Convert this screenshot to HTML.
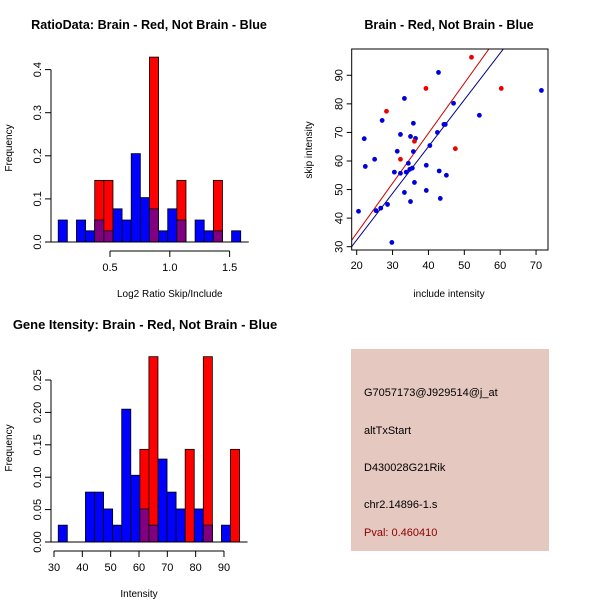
<!DOCTYPE html>
<html><head><meta charset="utf-8"><style>
body{margin:0;background:#fff}
svg{display:block;font-family:"Liberation Sans",sans-serif}
</style></head><body>
<svg id="c" width="600" height="600" viewBox="0 0 600 600">
<rect width="600" height="600" fill="#fff"/>
<text x="149" y="29" font-size="12.6" font-weight="bold" text-anchor="middle">RatioData: Brain - Red, Not Brain - Blue</text>
<text x="145" y="329" font-size="13" font-weight="bold" text-anchor="middle">Gene Itensity: Brain - Red, Not Brain - Blue</text>
<text x="449" y="29" font-size="12.6" font-weight="bold" text-anchor="middle">Brain - Red, Not Brain - Blue</text>
<g id="p1"></g>
<g id="p2"></g>
<g id="p3"></g>
<g>
<rect x="351" y="349" width="198" height="202" fill="#e5c8c0"/>
<text x="364" y="396" font-size="11">G7057173@J929514@j_at</text>
<text x="364" y="434" font-size="11">altTxStart</text>
<text x="364" y="471" font-size="11">D430028G21Rik</text>
<text x="364" y="508" font-size="11">chr2.14896-1.s</text>
<text x="364" y="536" font-size="11" fill="#8b0000">Pval: 0.460410</text>
</g>
</svg>
<script>
// Ratio histogram data
const ratioBinStart = 0.067, ratioBinWidth = 0.0763;
const ratioBlue = [0.051,0,0.051,0.026,0.051,0.026,0.077,0.051,0.205,0.103,0.077,0.026,0.077,0.051,0,0.051,0.026,0.026,0,0.026];
const ratioRed  = [0,0,0,0,0.143,0.143,0,0,0,0,0.429,0,0,0.143,0,0,0,0.143,0,0];
const ratioXTicks = [0.5,1.0,1.5];
const ratioXTickLabels = ["0.5","1.0","1.5"];
const ratioYTicks = [0,0.1,0.2,0.3,0.4];
const ratioYTickLabels = ["0.0","0.1","0.2","0.3","0.4"];
// Intensity histogram data
const intBinStart = 31.5, intBinWidth = 3.2;
const intBlue = [0.026,0,0,0.077,0.077,0.051,0.026,0.205,0.103,0.051,0.026,0.128,0.077,0.051,0,0.051,0.026,0,0.026,0];
const intRed  = [0,0,0,0,0,0,0,0,0,0.143,0.286,0,0,0,0.143,0,0.286,0,0,0.143];
const intXTicks = [30,40,50,60,70,80,90];
const intYTicks = [0,0.05,0.10,0.15,0.20,0.25];
const intYTickLabels = ["0.00","0.05","0.10","0.15","0.20","0.25"];
// Scatter data
const blueX = [20.5,22.1,22.4,25.0,25.4,26.7,27.1,28.6,29.8,30.5,31.3,32.2,32.2,33.3,33.3,33.8,34.4,35.0,35.0,34.8,35.5,35.8,35.8,36.4,36.1,39.4,39.4,40.4,42.5,42.8,43.0,43.3,44.3,44.7,45.0,47.0,54.2,71.5];
const blueY = [42.4,67.8,58.1,60.6,42.6,43.5,74.2,44.8,31.5,56.1,63.4,69.3,55.7,81.9,49.0,56.1,59.2,68.6,45.8,57.1,57.5,73.2,63.3,67.9,52.5,58.5,49.7,65.4,70.0,91.0,56.5,46.9,72.8,72.8,55.0,80.2,76.0,84.7];
const redX = [28.3,32.2,36.1,39.3,47.5,52.0,60.3];
const redY = [77.4,60.6,66.9,85.4,64.3,96.3,85.4];
const redFit = [-0.3,1.75];   // intercept, slope
const blueFit = [-0.4,1.636];
const scXTicks = [20,30,40,50,60,70];
const scYTicks = [30,40,50,60,70,80,90];

const NS="http://www.w3.org/2000/svg";
function mk(parent,tag,attrs,txt){const e=document.createElementNS(NS,tag);for(const k in attrs)e.setAttribute(k,attrs[k]);if(txt!==undefined)e.textContent=txt;parent.appendChild(e);return e;}

function hist(g,blue,red,binStart,binW,sx,sy,yTicks,yLabels,xTicks,xLabels,xAxisY,yAxisX,xlab,xlabY,axisX1,axisX2){
  for(let i=0;i<blue.length;i++){
    const x0=sx(binStart+i*binW), x1=sx(binStart+(i+1)*binW);
    if(blue[i]>0){const r=mk(g,'rect',{x:x0,y:sy(blue[i]),width:x1-x0,height:sy(0)-sy(blue[i]),fill:'#0000ff',stroke:'#000','stroke-width':0.8});
      
      }
  }
  for(let i=0;i<red.length;i++){
    const x0=sx(binStart+i*binW), x1=sx(binStart+(i+1)*binW);
    if(red[i]>0){const r=mk(g,'rect',{x:x0,y:sy(red[i]),width:x1-x0,height:sy(0)-sy(red[i]),fill:'#ff0000',stroke:'#000','stroke-width':0.8});
      
      
      const m=Math.min(red[i],blue[i]);
      if(m>0){const p=mk(g,'rect',{x:x0,y:sy(m),width:x1-x0,height:sy(0)-sy(m),fill:'#800080',stroke:'#000','stroke-width':0.8});
        
        }
    }
  }
  mk(g,'line',{x1:sx(binStart)-8,x2:sx(binStart+blue.length*binW)+8,y1:sy(0),y2:sy(0),stroke:'#000'});
  const ya=mk(g,'g',{});
  
  
  mk(ya,'line',{x1:yAxisX,x2:yAxisX,y1:sy(yTicks[0]),y2:sy(yTicks[yTicks.length-1]),stroke:'#000'});
  yTicks.forEach((t,i)=>{const y=sy(t);mk(ya,'line',{x1:yAxisX-6,x2:yAxisX,y1:y,y2:y,stroke:'#000'});
    mk(ya,'text',{x:yAxisX-10,y:y,'font-size':11,'text-anchor':'middle',transform:`rotate(-90 ${yAxisX-10} ${y})`},yLabels[i]);});
  const xa=mk(g,'g',{});
  
  
  mk(xa,'line',{x1:axisX1,x2:axisX2,y1:xAxisY,y2:xAxisY,stroke:'#000'});
  xTicks.forEach((t,i)=>{const x=sx(t);mk(xa,'line',{x1:x,x2:x,y1:xAxisY,y2:xAxisY+6,stroke:'#000'});
    mk(xa,'text',{x:x,y:xAxisY+20,'font-size':11,'text-anchor':'middle'},xLabels[i]);});
  const xl=mk(g,'text',{x:(axisX1+axisX2)/2,y:xlabY,'font-size':10,'text-anchor':'middle'},xlab);
  
  
}

(function(){
  const g=document.getElementById('p1');
  const sx=v=>110+(v-0.5)*119.6, sy=v=>242-v*431;
  hist(g,ratioBlue,ratioRed,ratioBinStart,ratioBinWidth,sx,sy,ratioYTicks,ratioYTickLabels,ratioXTicks,ratioXTickLabels,251,51,'Log2 Ratio Skip/Include',297,sx(0.5),sx(1.5));
  const yl=mk(g,'text',{x:12,y:148,'font-size':10,'text-anchor':'middle',transform:'rotate(-90 12 148)'},'Frequency');
  
  
})();
(function(){
  const g=document.getElementById('p2');
  const sx=v=>54+(v-30)*2.833, sy=v=>542-v*648;
  hist(g,intBlue,intRed,intBinStart,intBinWidth,sx,sy,intYTicks,intYTickLabels,intXTicks,intXTicks.map(String),551,51,'Intensity',597,sx(30),sx(90));
  const yl=mk(g,'text',{x:12,y:448,'font-size':10,'text-anchor':'middle',transform:'rotate(-90 12 448)'},'Frequency');
  
  
})();
(function(){
  const g=document.getElementById('p3');
  const L=351.7,T=49,R=548,B=250;
  const sx=v=>356.7+(v-20)*3.587, sy=v=>246.7-(v-30)*2.857;
  mk(g,'defs',{}).innerHTML='<clipPath id="clp"><rect x="'+L+'" y="'+T+'" width="'+(R-L)+'" height="'+(B-T)+'"/></clipPath>';
  const lines=mk(g,'g',{'clip-path':'url(#clp)'});
  [[redFit,'#cc0000','red-fit-line'],[blueFit,'#00008b','blue-fit-line']].forEach(([f,c,n])=>{
    const xa=10,xb=80;
    const l=mk(lines,'line',{x1:sx(xa),y1:sy(f[0]+f[1]*xa),x2:sx(xb),y2:sy(f[0]+f[1]*xb),stroke:c,'stroke-width':1});
    
    
  });
  for(let i=0;i<blueX.length;i++){const c=mk(g,'circle',{cx:sx(blueX[i]),cy:sy(blueY[i]),r:2.4,fill:'#0000dd'});
    
    }
  for(let i=0;i<redX.length;i++){const c=mk(g,'circle',{cx:sx(redX[i]),cy:sy(redY[i]),r:2.4,fill:'#ee0000'});
    
    }
  const box=mk(g,'rect',{x:L,y:T,width:R-L,height:B-T,fill:'none',stroke:'#000'});
  
  
  scXTicks.forEach(t=>{const x=sx(t);mk(g,'line',{x1:x,x2:x,y1:B,y2:B+5,stroke:'#000'});mk(g,'text',{x:x,y:B+19,'font-size':11,'text-anchor':'middle'},String(t));});
  scYTicks.forEach(t=>{const y=sy(t);mk(g,'line',{x1:L-5,x2:L,y1:y,y2:y,stroke:'#000'});mk(g,'text',{x:L-9,y:y,'font-size':11,'text-anchor':'middle',transform:`rotate(-90 ${L-9} ${y})`},String(t));});
  const xl=mk(g,'text',{x:449,y:297,'font-size':10,'text-anchor':'middle'},'include intensity');
  
  
  const yl=mk(g,'text',{x:312,y:150,'font-size':10,'text-anchor':'middle',transform:'rotate(-90 312 150)'},'skip intensity');
  
  
})();
</script>
</body></html>
